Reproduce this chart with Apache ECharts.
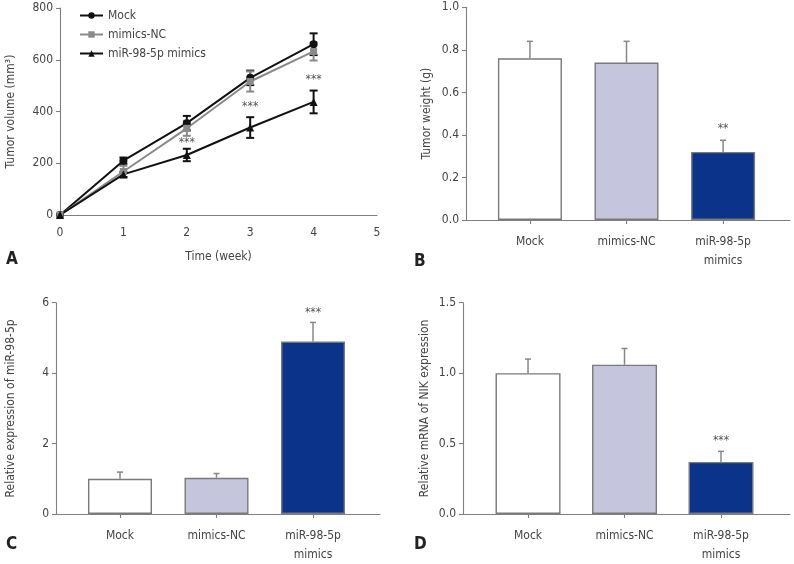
<!DOCTYPE html>
<html>
<head>
<meta charset="utf-8">
<script src="https://cdn.jsdelivr.net/npm/echarts@6/dist/echarts.min.js"></script>
<style>
html,body{margin:0;padding:0;background:#fff;}
#main{width:794px;height:564px;}
</style>
</head>
<body>
<div id="main"></div>
<script>
// data
var weeks = [0, 1, 2, 3, 4];
var mockVol = [0, 210, 355, 530, 660];
var mockVolErr = [0, 12, 28, 28, 42];
var ncVol = [0, 168, 335, 516, 632];
var ncVolErr = [0, 22, 29, 39, 35];
var mimVol = [0, 157, 232, 338, 437];
var mimVolErr = [0, 10, 24, 40, 44];
var starWeeks = [2, 3, 4];
var starVols = [277, 417, 523];

var groups = ['Mock', 'mimics-NC', 'miR-98-5p\nmimics'];
var weight = [0.76, 0.74, 0.32];
var weightErr = [0.08, 0.10, 0.055];
var expr = [1.0, 1.03, 4.9];
var exprErr = [0.19, 0.12, 0.54];
var nik = [1.0, 1.06, 0.37];
var nikErr = [0.10, 0.115, 0.075];
var weightStars = ['', '', '**'];
var exprStars = ['', '', '***'];
var nikStars = ['', '', '***'];

var FONT = "'Liberation Sans Narrow', 'DejaVu Sans Condensed', sans-serif";
var AXIS = '#808080';
var TEXT = '#444';
var barColors = ['#ffffff', '#c6c5de', '#0a3389'];
var pos = [0, 1, 2];

function errSeries(gi, xs, vals, errs, color, cap, width, both) {
	var data = [];
	for (var i = 0; i < xs.length; i++) {
		if (errs[i] > 0) data.push([xs[i], vals[i], errs[i]]);
	}
	return {
		type: 'custom', xAxisIndex: gi, yAxisIndex: gi, z: both ? 1 : 5,
		silent: true, encode: { x: 0, y: 1 }, data: data,
		renderItem: function(params, api) {
			var x = api.value(0), v = api.value(1), e = api.value(2);
			var top = api.coord([x, v + e]);
			var bot = api.coord([x, both ? v - e : v]);
			var st = { stroke: color, lineWidth: width };
			var kids = [
				{ type: 'line', shape: { x1: top[0], y1: top[1], x2: bot[0], y2: bot[1] }, style: st },
				{ type: 'line', shape: { x1: top[0] - cap, y1: top[1], x2: top[0] + cap, y2: top[1] }, style: st }
			];
			if (both) kids.push({ type: 'line', shape: { x1: bot[0] - cap, y1: bot[1], x2: bot[0] + cap, y2: bot[1] }, style: st });
			return { type: 'group', children: kids };
		}
	};
}

function starSeries(gi, xs, ys, texts, dy) {
	var data = [];
	for (var i = 0; i < xs.length; i++) {
		if (texts[i]) data.push([xs[i], ys[i], i]);
	}
	return {
		type: 'custom', xAxisIndex: gi, yAxisIndex: gi, z: 6, silent: true,
		encode: { x: 0, y: 1 }, data: data,
		renderItem: function(params, api) {
			var p = api.coord([api.value(0), api.value(1)]);
			return { type: 'text', x: p[0], y: p[1] + dy, style: {
				text: texts[api.value(2)], fill: '#555', font: '12px ' + FONT,
				align: 'center', verticalAlign: 'middle' } };
		}
	};
}

function barData(vals) {
	var d = [];
	for (var i = 0; i < vals.length; i++) {
		d.push({ value: [pos[i], vals[i]], itemStyle: { color: barColors[i], borderColor: '#7a7a7a', borderWidth: 1.4 } });
	}
	return d;
}

function sum(a, b) {
	var r = [];
	for (var i = 0; i < a.length; i++) r.push(a[i] + b[i]);
	return r;
}

var lineStyle = { color: AXIS, width: 1.1 };
var nameStyle = { color: TEXT, fontSize: 12, fontFamily: FONT };

function catAxis(gi, min, max) {
	return {
		type: 'value', gridIndex: gi, min: min, max: max,
		splitLine: { show: false }, axisLine: { onZero: false, lineStyle: lineStyle },
		axisTick: { length: 4, lineStyle: lineStyle, customValues: pos },
		axisLabel: { customValues: pos, color: TEXT, fontSize: 12, fontFamily: FONT, lineHeight: 19, margin: 12,
			formatter: function(v) { return groups[Math.round(v)]; } }
	};
}

function valAxis(gi, max, step, name, gap, dec) {
	return {
		type: 'value', gridIndex: gi, min: 0, max: max, interval: step,
		name: name, nameLocation: 'middle', nameGap: gap, nameTextStyle: nameStyle,
		splitLine: { show: false }, axisLine: { show: true, onZero: false, lineStyle: lineStyle },
		axisTick: { show: true, length: 4, lineStyle: lineStyle },
		axisLabel: { color: TEXT, fontSize: 12, fontFamily: FONT, margin: 7,
			formatter: function(v) { return dec ? v.toFixed(dec) : String(v); } }
	};
}

var myChart = echarts.init(document.getElementById('main'));
var option = {
	backgroundColor: '#fff',
	animation: false,
	grid: [
		{ left: 60, top: 8, width: 317, height: 207 },
		{ left: 466, top: 7.3, width: 324, height: 212.7 },
		{ left: 56, top: 302.7, width: 324, height: 213.3 },
		{ left: 463, top: 302.7, width: 327, height: 213.3 }
	],
	legend: {
		orient: 'vertical', left: 74, top: 3, itemWidth: 23, itemHeight: 8, itemGap: 4,
		textStyle: { color: TEXT, fontSize: 12, fontFamily: FONT, lineHeight: 15 },
		data: ['Mock', 'mimics-NC', 'miR-98-5p mimics']
	},
	xAxis: [
		{ type: 'value', gridIndex: 0, min: 0, max: 5, interval: 1, name: 'Time (week)', nameLocation: 'middle', nameGap: 36,
			nameTextStyle: nameStyle, splitLine: { show: false },
			axisLine: { onZero: false, lineStyle: lineStyle }, axisTick: { show: false },
			axisLabel: { color: TEXT, fontSize: 12, fontFamily: FONT, margin: 12 } },
		catAxis(1, -0.662, 2.693),
		catAxis(2, -0.663, 2.694),
		catAxis(3, -0.674, 2.715)
	],
	yAxis: [
		valAxis(0, 800, 200, 'Tumor volume (mm³)', 43, 0),
		valAxis(1, 1.0, 0.2, 'Tumor weight (g)', 33, 1),
		valAxis(2, 6, 2, 'Relative expression of miR-98-5p', 39, 0),
		valAxis(3, 1.5, 0.5, 'Relative mRNA of NIK expression', 32, 1)
	],
	series: [
		errSeries(0, weeks, mockVol, mockVolErr, '#111', 4, 2, true),
		errSeries(0, weeks, ncVol, ncVolErr, '#8a8a8a', 4, 2, true),
		errSeries(0, weeks, mimVol, mimVolErr, '#111', 4, 2, true),
		{ name: 'Mock', type: 'line', xAxisIndex: 0, yAxisIndex: 0, z: 3, data: weeks.map(function(w, i) { return [w, mockVol[i]]; }),
			symbol: 'circle', symbolSize: 8, itemStyle: { color: '#111' }, lineStyle: { color: '#111', width: 2 } },
		{ name: 'mimics-NC', type: 'line', xAxisIndex: 0, yAxisIndex: 0, z: 3, data: weeks.map(function(w, i) { return [w, ncVol[i]]; }),
			symbol: 'rect', symbolSize: 7, itemStyle: { color: '#8a8a8a' }, lineStyle: { color: '#8a8a8a', width: 2 } },
		{ name: 'miR-98-5p mimics', type: 'line', xAxisIndex: 0, yAxisIndex: 0, z: 3, data: weeks.map(function(w, i) { return [w, mimVol[i]]; }),
			symbol: 'triangle', symbolSize: 8, itemStyle: { color: '#111' }, lineStyle: { color: '#111', width: 2 } },
		starSeries(0, starWeeks, starVols, ['***', '***', '***'], 0),

		{ type: 'bar', xAxisIndex: 1, yAxisIndex: 1, barWidth: 64, data: barData(weight) },
		errSeries(1, pos, weight, weightErr, '#888', 3, 1.5, false),
		starSeries(1, pos, sum(weight, weightErr), weightStars, -11),

		{ type: 'bar', xAxisIndex: 2, yAxisIndex: 2, barWidth: 64, data: barData(expr) },
		errSeries(2, pos, expr, exprErr, '#888', 3, 1.5, false),
		starSeries(2, pos, sum(expr, exprErr), exprStars, -10),

		{ type: 'bar', xAxisIndex: 3, yAxisIndex: 3, barWidth: 65, data: barData(nik) },
		errSeries(3, pos, nik, nikErr, '#888', 3, 1.5, false),
		starSeries(3, pos, sum(nik, nikErr), nikStars, -10)
	],
	graphic: [
		{ type: 'text', left: 6, top: 251, style: { text: 'A', font: 'bold 17px ' + FONT, fill: '#222' } },
		{ type: 'text', left: 414, top: 253, style: { text: 'B', font: 'bold 17px ' + FONT, fill: '#222' } },
		{ type: 'text', left: 6, top: 536, style: { text: 'C', font: 'bold 17px ' + FONT, fill: '#222' } },
		{ type: 'text', left: 414, top: 536, style: { text: 'D', font: 'bold 17px ' + FONT, fill: '#222' } }
	]
};
myChart.setOption(option);
</script>
</body>
</html>
